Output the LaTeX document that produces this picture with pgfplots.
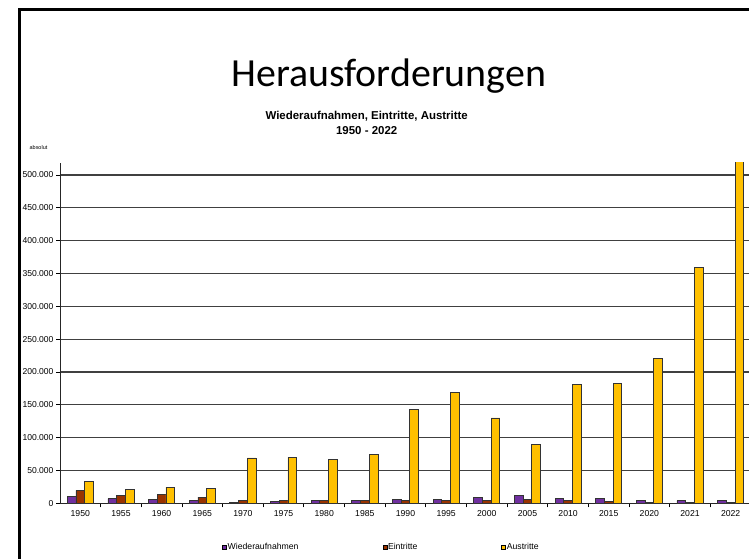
\documentclass[border=0pt]{standalone}
\usepackage{fontspec}
\setmainfont{Liberation Sans}
\newfontfamily\calibri{Carlito}
\usepackage{pgfplots}
\pgfplotsset{compat=1.18}
\definecolor{cW}{HTML}{7030A0}
\definecolor{cE}{HTML}{993300}
\definecolor{cA}{HTML}{FFC000}
\begin{document}
\begin{tikzpicture}
\useasboundingbox (0bp,0bp) rectangle (749bp,559bp);
\begin{scope}
\clip (0bp,0bp) rectangle (749bp,559bp);
\draw[line width=2.4bp] (19.5bp,-5bp) -- (19.5bp,549.5bp) -- (760bp,549.5bp);
\node[font=\calibri\fontsize{40}{48}\selectfont, anchor=base, inner sep=0pt] at (388.8bp,472.3bp) {Herausforderungen};
\node[font=\bfseries\fontsize{11.5}{14}\selectfont, anchor=base, inner sep=0pt] at (366.7bp,439bp) {Wiederaufnahmen, Eintritte, Austritte};
\node[font=\bfseries\fontsize{11.5}{14}\selectfont, anchor=base, inner sep=0pt] at (366.7bp,424.7bp) {1950 - 2022};
\node[font=\fontsize{5.5}{6}\selectfont, inner sep=0pt] at (38.5bp,411bp) {absolut};
\begin{axis}[
  at={(80.32bp,55.7bp)}, anchor=origin,
  scale only axis, width=691bp, height=340.6bp,
  ybar=0pt, bar width=8.7bp,
  xmin=-0.5, xmax=16.5, ymin=0, ymax=518700,
  axis x line*=bottom, axis y line*=left,
  axis line style={-, black!85, line width=0.9bp},
  xtick={0,...,16},
  xticklabels={1950,1955,1960,1965,1970,1975,1980,1985,1990,1995,2000,2005,2010,2015,2020,2021,2022},
  major x tick style={draw=none},
  minor xtick={0.5,1.5,...,15.5},
  minor x tick style={black, line width=0.8bp},
  minor tick length=4bp,
  tick align=outside,
  major tick length=3.5bp,
  y tick style={black, line width=0.8bp},
  ytick={0,50000,...,500000},
  ymajorgrids, major grid style={black!75, line width=1.1bp},
  scaled y ticks=false,
  yticklabel style={font=\fontsize{8.6}{10}\selectfont, xshift=0.5bp},
  yticklabel style={/pgf/number format/fixed, /pgf/number format/1000 sep={.}, /pgf/number format/assume math mode=true},
  xticklabel style={font=\fontsize{8.7}{10}\selectfont},
  every axis plot/.append style={draw=black!80, line width=0.8bp},
  legend columns=3,
  legend style={at={(0,0)}, anchor=west, xshift=162bp, yshift=-43.7bp, draw=none, fill=none, inner sep=0pt,
    font=\fontsize{8.7}{10}\selectfont,
    nodes={inner sep=1pt, anchor=west},
    /tikz/every even column/.append style={column sep=83bp}},
  legend image code/.code={\draw[#1, line width=0.5bp, draw=black] (0bp,-2bp) rectangle (4bp,2bp);},
]
\addplot[fill=cW] coordinates {(0,11000) (1,7000) (2,6000) (3,4000) (4,1000) (5,3000) (6,4000) (7,4000) (8,6000) (9,6000) (10,8500) (11,11500) (12,7000) (13,7000) (14,4000) (15,4000) (16,4000)};
\addplot[fill=cE] coordinates {(0,19800) (1,12500) (2,14000) (3,9500) (4,4000) (5,4000) (6,4000) (7,4000) (8,4000) (9,4000) (10,4000) (11,6000) (12,4000) (13,2600) (14,1200) (15,1200) (16,1200)};
\addplot[fill=cA] coordinates {(0,33000) (1,21500) (2,24500) (3,23000) (4,69000) (5,70000) (6,66400) (7,74500) (8,143000) (9,169000) (10,130000) (11,89500) (12,180600) (13,182000) (14,221000) (15,359400) (16,522800)};
\legend{Wiederaufnahmen,Eintritte,Austritte}
\end{axis}
\end{scope}
\end{tikzpicture}
\end{document}
